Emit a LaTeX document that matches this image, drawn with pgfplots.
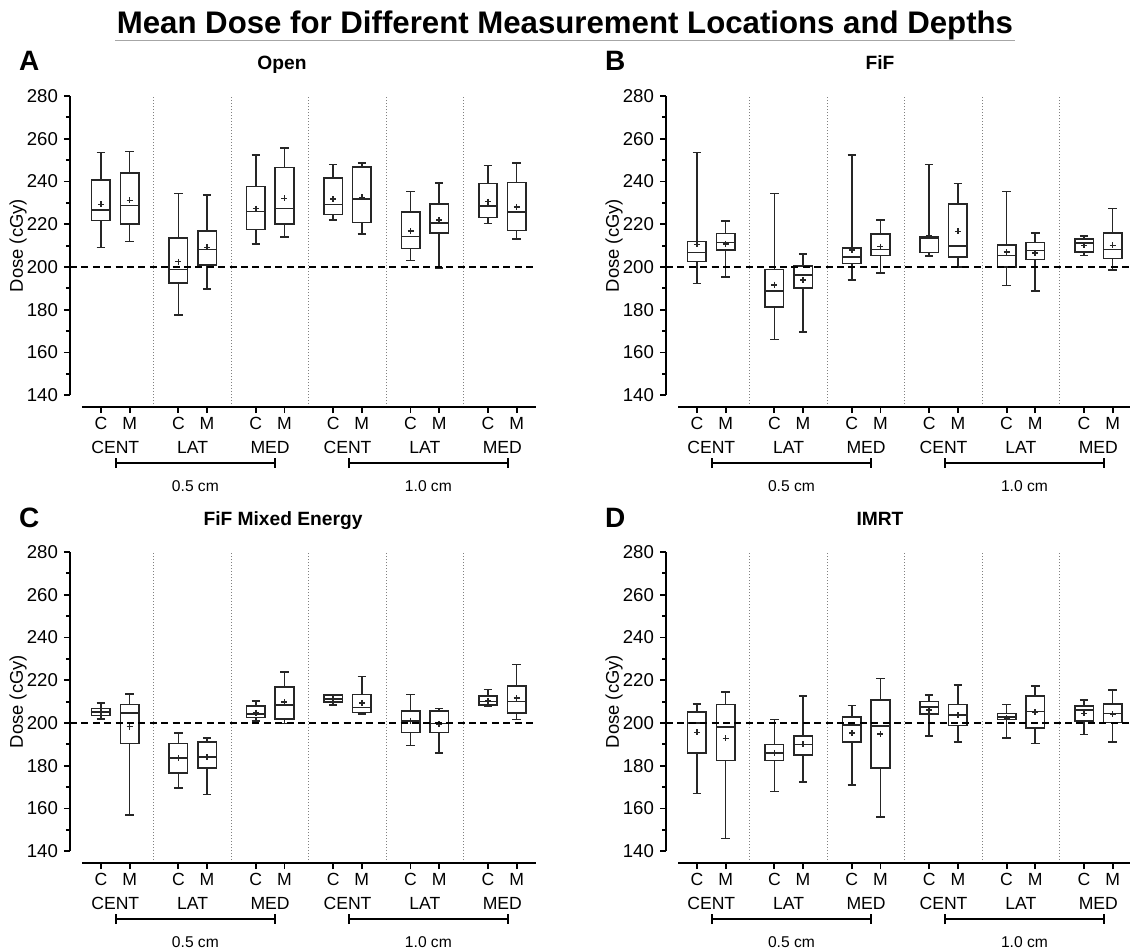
\documentclass[border=0pt]{standalone}
\usepackage{fontspec}
\setmainfont{Liberation Sans}
\usepackage{pgfplots}
\usepackage{pgfplotstable}
\pgfplotsset{compat=1.18}
\usepgfplotslibrary{statistics}
\usetikzlibrary{arrows.meta}

% pos lw lq med uq uw avg  (C at g, M at g+0.37)
\pgfplotstableread{
pos  lw    lq    med   uq    uw    avg
0    209.2 221.8 226.8 240.6 253.5 229.3
0.37 212.0 220.1 228.8 244.0 254.0 231.2
1    177.5 192.5 198.9 213.6 234.3 202.5
1.37 189.6 200.9 208.1 216.8 233.8 209.2
2    210.8 217.5 226.0 237.6 252.4 227.3
2.37 213.9 220.0 227.4 246.6 255.8 232.1
3    222.0 224.5 229.2 241.5 248.0 231.7
3.37 215.4 220.9 231.7 246.8 248.7 232.6
4    203.0 208.7 214.2 225.7 235.3 216.8
4.37 199.5 216.0 220.7 229.6 239.3 222.1
5    220.4 223.1 228.4 239.1 247.4 230.6
5.37 213.0 217.0 225.6 239.6 248.7 228.1
}\tabOpen

\pgfplotstableread{
pos  lw    lq    med   uq    uw    avg
0    192.3 202.5 206.7 211.9 253.5 210.6
0.37 195.2 208.0 211.5 215.6 221.4 210.8
1    166.0 181.3 188.8 198.8 234.3 191.7
1.37 169.7 190.3 196.3 200.5 206.1 193.9
2    193.9 201.6 204.8 208.9 252.4 208.0
2.37 197.2 205.3 208.1 215.3 222.0 209.5
3    205.1 206.7 213.3 214.0 248.0 214.5
3.37 199.9 204.7 209.8 229.6 239.0 216.7
4    191.4 199.9 205.3 210.3 235.4 207.0
4.37 188.9 203.6 207.8 211.4 215.9 206.5
5    205.4 207.0 211.2 213.0 214.4 210.1
5.37 198.5 203.9 208.1 216.0 227.3 210.1
}\tabFiF

\pgfplotstableread{
pos  lw    lq    med   uq    uw    avg
0    202.0 203.6 205.1 206.7 209.4 205.1
0.37 157.0 190.5 204.8 208.6 213.7 198.3
1    169.5 176.5 183.5 190.5 195.2 183.5
1.37 166.5 179.0 184.0 191.0 193.1 184.0
2    200.9 202.5 204.1 208.0 210.4 204.8
2.37 199.8 202.0 208.4 216.8 223.9 209.7
3    208.4 209.8 211.1 213.0 213.1 211.2
3.37 204.2 205.0 207.3 213.3 221.7 209.4
4    189.5 195.6 200.8 205.6 213.3 201.1
4.37 186.0 195.5 199.8 205.5 206.7 199.4
5    208.0 208.3 210.0 212.5 215.6 210.4
5.37 201.7 204.8 210.0 217.3 227.3 211.6
}\tabMixed

\pgfplotstableread{
pos  lw    lq    med   uq    uw    avg
0    167.0 186.0 200.0 205.1 208.9 195.6
0.37 146.0 182.5 198.1 208.6 214.5 192.8
1    168.0 182.5 186.0 190.0 201.6 186.0
1.37 172.5 185.0 190.0 193.9 212.6 190.0
2    171.0 191.0 199.2 202.8 208.1 195.3
2.37 156.0 179.0 198.6 210.8 220.9 194.9
3    193.9 204.2 207.5 210.0 213.0 206.2
3.37 191.0 198.8 203.7 208.7 217.8 203.7
4    193.1 201.7 202.7 204.5 208.7 202.3
4.37 190.5 197.7 205.3 212.5 217.3 205.0
5    194.7 200.8 206.2 208.0 210.8 204.5
5.37 191.0 200.3 204.5 209.0 215.4 204.1
}\tabIMRT

\pgfplotsset{
  panel/.style={
    scale only axis, width=233pt, height=155.5pt,
    xmin=-0.40, xmax=5.62, ymin=134.5, ymax=280,
    clip=false,
    axis line style={draw=none},
    xtick pos=bottom, ytick pos=left,
    tick align=outside,
    ytick={140,160,...,280}, minor ytick={150,170,...,270},
    xtick={0,0.37,1,1.37,2,2.37,3,3.37,4,4.37,5,5.37},
    xticklabels={C,M,C,M,C,M,C,M,C,M,C,M},
    major tick length=3pt, minor tick length=2pt,
    every tick/.style={black, line width=0.9pt},
    yticklabel style={font=\fontsize{9.3}{10}\selectfont, xshift=0.5pt},
    xticklabel style={font=\fontsize{8.8}{10}\selectfont, yshift=1.5pt},
    /pgf/number format/assume math mode=true,
    boxplot/draw direction=y,
    boxplot/box extend=0.24,
    boxplot/whisker extend=0.11,
    boxplot/every average/.style={/tikz/mark=+, /tikz/mark size=1.5pt, /tikz/line width=1pt},
  },
}
\tikzset{
  boxsty/.style={black!85, line width=0.8pt, solid},
  grp/.style={font=\fontsize{8.8}{10}\selectfont, yshift=-20pt},
  dep/.style={font=\fontsize{7.8}{9}\selectfont, yshift=-39.5pt},
}

\newcommand\drawboxes[1]{%
  \pgfplotsinvokeforeach{0,...,11}{%
    \pgfplotstablegetelem{##1}{pos}\of#1\let\bpos\pgfplotsretval
    \pgfplotstablegetelem{##1}{lw}\of#1\let\blw\pgfplotsretval
    \pgfplotstablegetelem{##1}{lq}\of#1\let\blq\pgfplotsretval
    \pgfplotstablegetelem{##1}{med}\of#1\let\bmed\pgfplotsretval
    \pgfplotstablegetelem{##1}{uq}\of#1\let\buq\pgfplotsretval
    \pgfplotstablegetelem{##1}{uw}\of#1\let\buw\pgfplotsretval
    \pgfplotstablegetelem{##1}{avg}\of#1\let\bavg\pgfplotsretval
    \edef\doplot{\noexpand\addplot[boxsty, boxplot prepared={draw position=\bpos,
      lower whisker=\blw, lower quartile=\blq, median=\bmed,
      upper quartile=\buq, upper whisker=\buw, average=\bavg}] coordinates {};}%
    \doplot
  }%
}

\newcommand\decor{%
  \draw[gray, densely dotted, line width=0.5pt] (axis cs:0.685,134.5) -- (axis cs:0.685,280);
  \draw[gray, densely dotted, line width=0.5pt] (axis cs:1.685,134.5) -- (axis cs:1.685,280);
  \draw[gray, densely dotted, line width=0.5pt] (axis cs:2.685,134.5) -- (axis cs:2.685,280);
  \draw[gray, densely dotted, line width=0.5pt] (axis cs:3.685,134.5) -- (axis cs:3.685,280);
  \draw[gray, densely dotted, line width=0.5pt] (axis cs:4.685,134.5) -- (axis cs:4.685,280);
  \draw[line width=0.9pt, dash pattern=on 3.5pt off 2.2pt] (axis cs:-0.4,200) -- (axis cs:5.58,200);
  \draw[line width=1.1pt] (axis cs:-0.4,140) -- (axis cs:-0.4,280);
  \draw[line width=1.1pt] (axis cs:-0.245,134.5) -- (axis cs:5.62,134.5);
  \node[grp] at (axis cs:0.185,134.5) {CENT};
  \node[grp] at (axis cs:1.185,134.5) {LAT};
  \node[grp] at (axis cs:2.185,134.5) {MED};
  \node[grp] at (axis cs:3.185,134.5) {CENT};
  \node[grp] at (axis cs:4.185,134.5) {LAT};
  \node[grp] at (axis cs:5.185,134.5) {MED};
  \draw[line width=0.9pt, {Bar[width=5pt]}-{Bar[width=5pt]}] ([yshift=-28pt]axis cs:0.18,134.5) -- ([yshift=-28pt]axis cs:2.26,134.5);
  \draw[line width=0.9pt, {Bar[width=5pt]}-{Bar[width=5pt]}] ([yshift=-28pt]axis cs:3.19,134.5) -- ([yshift=-28pt]axis cs:5.27,134.5);
  \node[dep] at (axis cs:1.22,134.5) {0.5 cm};
  \node[dep] at (axis cs:4.23,134.5) {1.0 cm};
  \node[rotate=90, font=\fontsize{9.2}{10}\selectfont] at ([xshift=-26pt]axis cs:-0.4,210) {Dose (cGy)};
}

\begin{document}
\begin{tikzpicture}
\path[use as bounding box] (0,0) rectangle (565pt,-474pt);

\node[anchor=base, font=\bfseries\fontsize{15.6}{17}\selectfont] at (282.5pt,-16.5pt) {Mean Dose for Different Measurement Locations and Depths};
\draw[gray!70, line width=0.8pt] (57.5pt,-20.2pt) -- (507.5pt,-20.2pt);

\node[anchor=base west, font=\bfseries\fontsize{14}{15}\selectfont] at (6pt,-35pt) {A};
\node[anchor=base west, font=\bfseries\fontsize{14}{15}\selectfont] at (299pt,-35pt) {B};
\node[anchor=base west, font=\bfseries\fontsize{14}{15}\selectfont] at (6pt,-263.5pt) {C};
\node[anchor=base west, font=\bfseries\fontsize{14}{15}\selectfont] at (299pt,-263.5pt) {D};

\node[anchor=base, font=\bfseries\fontsize{9.6}{11}\selectfont] at (141pt,-34.5pt) {Open};
\node[anchor=base, font=\bfseries\fontsize{9.6}{11}\selectfont] at (440pt,-34.5pt) {FiF};
\node[anchor=base, font=\bfseries\fontsize{9.6}{11}\selectfont] at (141.5pt,-262.5pt) {FiF Mixed Energy};
\node[anchor=base, font=\bfseries\fontsize{9.6}{11}\selectfont] at (440pt,-262.5pt) {IMRT};

\begin{axis}[panel, at={(35pt,-203.5pt)}, anchor=south west]
\drawboxes{\tabOpen}
\decor
\end{axis}

\begin{axis}[panel, at={(333pt,-203.5pt)}, anchor=south west]
\drawboxes{\tabFiF}
\decor
\end{axis}

\begin{axis}[panel, at={(35pt,-431.5pt)}, anchor=south west]
\drawboxes{\tabMixed}
\decor
\end{axis}

\begin{axis}[panel, at={(333pt,-431.5pt)}, anchor=south west]
\drawboxes{\tabIMRT}
\decor
\end{axis}
\end{tikzpicture}
\end{document}
